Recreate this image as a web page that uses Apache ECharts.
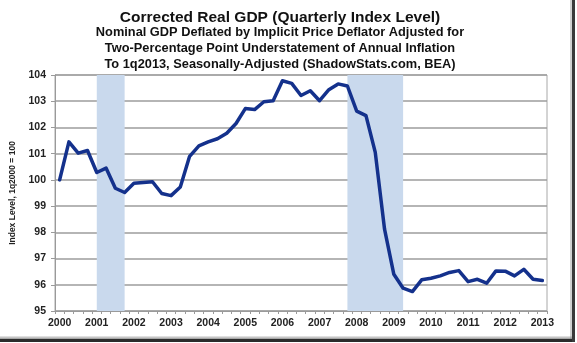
<!DOCTYPE html>
<html>
<head>
<meta charset="utf-8">
<script src="https://cdn.jsdelivr.net/npm/echarts@6/dist/echarts.min.js"></script>
<style>
  html, body { margin: 0; padding: 0; background: #fff; }
  #chart { width: 577px; height: 343px; }
</style>
</head>
<body>
<div id="chart"></div>
<script>
// Quarterly categories, 1q2000 .. 1q2013
const quarters = [
  '1q2000','2q2000','3q2000','4q2000','1q2001','2q2001','3q2001','4q2001',
  '1q2002','2q2002','3q2002','4q2002','1q2003','2q2003','3q2003','4q2003',
  '1q2004','2q2004','3q2004','4q2004','1q2005','2q2005','3q2005','4q2005',
  '1q2006','2q2006','3q2006','4q2006','1q2007','2q2007','3q2007','4q2007',
  '1q2008','2q2008','3q2008','4q2008','1q2009','2q2009','3q2009','4q2009',
  '1q2010','2q2010','3q2010','4q2010','1q2011','2q2011','3q2011','4q2011',
  '1q2012','2q2012','3q2012','4q2012','1q2013'
];

// Corrected real GDP index level (1q2000 = 100)
const indexLevel = [
  100.00, 101.45, 101.02, 101.12, 100.28, 100.45, 99.68, 99.52,
  99.87, 99.90, 99.93, 99.48, 99.40, 99.73, 100.90, 101.30,
  101.45, 101.57, 101.78, 102.15, 102.72, 102.68, 102.98, 103.02,
  103.78, 103.68, 103.22, 103.40, 103.02, 103.44, 103.66, 103.58,
  102.62, 102.45, 101.05, 98.12, 96.40, 95.87, 95.74, 96.19,
  96.25, 96.34, 96.47, 96.54, 96.12, 96.21, 96.06, 96.53,
  96.52, 96.34, 96.59, 96.21, 96.16
];

// Recession periods (first and last quarter)
const recessionStart = ['1q2001', '4q2007'];
const recessionEnd   = ['4q2001', '2q2009'];

// Y axis range and step
const yMin = 95, yMax = 104, yStep = 1;

const titleText = 'Corrected Real GDP (Quarterly Index Level)';
const subtitleLines = [
  'Nominal GDP Deflated by Implicit Price Deflator Adjusted for',
  'Two-Percentage Point Understatement of Annual Inflation',
  'To 1q2013, Seasonally-Adjusted (ShadowStats.com, BEA)'
];
const yAxisTitle = 'Index Level, 1q2000 = 100';

const FONT = 'Liberation Sans, Arial, sans-serif';

const chart = echarts.init(document.getElementById('chart'), null, { renderer: 'canvas' });

chart.setOption({
  backgroundColor: '#ffffff',
  animation: false,
  title: {
    text: titleText,
    subtext: subtitleLines.join('\n'),
    left: 280,
    top: 9,
    padding: 0,
    textAlign: 'center',
    itemGap: -2,
    textStyle: { fontFamily: FONT, fontSize: 15.5, fontWeight: 'bold', color: '#111', lineHeight: 18 },
    subtextStyle: { fontFamily: FONT, fontSize: 12.8, fontWeight: 'bold', color: '#111', lineHeight: 15.6 }
  },
  grid: {
    left: 55, right: 30, top: 75, bottom: 32,
    show: true, borderColor: '#a8a8a8', borderWidth: 1
  },
  xAxis: {
    type: 'category',
    data: quarters,
    boundaryGap: true,
    axisLine: { lineStyle: { color: '#9a9a9a', width: 1 } },
    axisTick: { show: true, interval: 0, length: 3, lineStyle: { color: '#9a9a9a' } },
    axisLabel: {
      interval: 3,
      margin: 7,
      fontFamily: FONT, fontSize: 10.5, fontWeight: 'bold', color: '#222',
      formatter: v => v.slice(2)
    },
    splitLine: { show: false }
  },
  yAxis: {
    type: 'value',
    min: yMin, max: yMax, interval: yStep,
    name: yAxisTitle,
    nameLocation: 'middle',
    nameGap: 32,
    nameRotate: 90,
    nameTextStyle: { fontFamily: FONT, fontSize: 8.5, fontWeight: 'bold', color: '#222' },
    axisLine: { show: true, lineStyle: { color: '#9a9a9a', width: 1 } },
    axisTick: { show: true, length: 4, lineStyle: { color: '#9a9a9a' } },
    axisLabel: { margin: 9, fontFamily: FONT, fontSize: 10.5, fontWeight: 'bold', color: '#222' },
    splitLine: { show: true, lineStyle: { color: '#9c9c9c', width: 1.5 } }
  },
  series: [{
    type: 'line',
    data: indexLevel,
    symbol: 'none',
    smooth: false,
    lineStyle: { color: '#14318c', width: 3.5, join: 'round', cap: 'round' },
    z: 3,
    markArea: {
      silent: true,
      itemStyle: { color: '#c9d9ed' },
      data: recessionStart.map((s, i) => [{ xAxis: s }, { xAxis: recessionEnd[i] }])
    }
  }],
  graphic: [
    // drop-shadow frame along the bottom and right edges
    {
      type: 'rect', z: 10,
      shape: { x: 0, y: 336, width: 575, height: 3 },
      style: { fill: new echarts.graphic.LinearGradient(0, 0, 0, 1, [
        { offset: 0, color: 'rgba(120,120,120,0.15)' },
        { offset: 1, color: 'rgba(80,80,80,0.6)' }
      ]) }
    },
    {
      type: 'rect', z: 10,
      shape: { x: 0, y: 339, width: 575, height: 3 },
      style: { fill: '#2b2b2b' }
    },
    {
      type: 'rect', z: 10,
      shape: { x: 570, y: 0, width: 2, height: 339 },
      style: { fill: 'rgba(120,120,120,0.35)' }
    },
    {
      type: 'rect', z: 10,
      shape: { x: 572, y: 0, width: 3, height: 342 },
      style: { fill: '#3a3a3a' }
    }
  ]
});
</script>
</body>
</html>
